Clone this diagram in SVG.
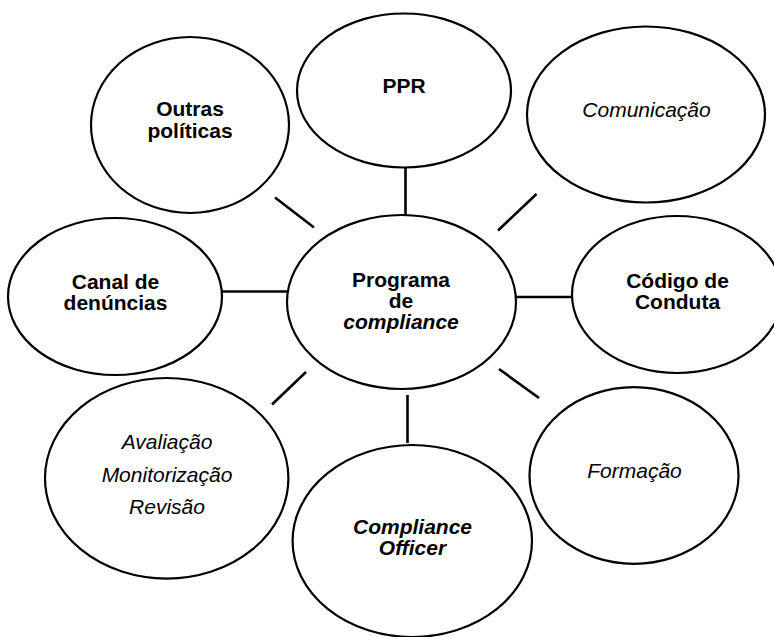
<svg xmlns="http://www.w3.org/2000/svg" width="774" height="637" viewBox="0 0 774 637">
<style>
.n{fill:#fff;stroke:#000;stroke-width:2.2}
.c line{stroke:#000;stroke-width:2.6}
text{font-family:"Liberation Sans",Arial,sans-serif;font-size:21px;fill:#000;text-anchor:middle}
.b{font-weight:bold}
.i{font-style:italic}
</style>
<rect width="774" height="637" fill="#fff"/>
<g id="connectors" class="c">
<line x1="405.5" y1="168" x2="405.5" y2="215"/>
<line x1="275" y1="197.5" x2="314" y2="227.5"/>
<line x1="498" y1="230.5" x2="536.5" y2="194"/>
<line x1="222" y1="291.5" x2="287" y2="291.5"/>
<line x1="516" y1="297" x2="572" y2="297"/>
<line x1="306" y1="372" x2="272" y2="404.5"/>
<line x1="407.5" y1="395" x2="407.5" y2="443"/>
<line x1="499" y1="369" x2="539" y2="398"/>
</g>
<g id="ppr">
<ellipse class="n" cx="404" cy="90.5" rx="107" ry="77"/>
<text class="b" x="404" y="92.5">PPR</text>
</g>
<g id="outras">
<ellipse class="n" cx="190" cy="125" rx="99" ry="88"/>
<text class="b" x="190" y="116">Outras</text>
<text class="b" x="190" y="137.5">políticas</text>
</g>
<g id="comunicacao">
<ellipse class="n" cx="646" cy="114.5" rx="119" ry="88"/>
<text class="i" x="646.5" y="116.5">Comunicação</text>
</g>
<g id="canal">
<ellipse class="n" cx="115" cy="296.5" rx="107" ry="78.5"/>
<text class="b" x="115.5" y="289">Canal de</text>
<text class="b" x="115.5" y="310">denúncias</text>
</g>
<g id="programa">
<ellipse class="n" cx="401.5" cy="302" rx="114.5" ry="87"/>
<text class="b" x="401" y="286.5">Programa</text>
<text class="b" x="401" y="308">de</text>
<text class="b i" x="401" y="329">compliance</text>
</g>
<g id="codigo">
<ellipse class="n" cx="677" cy="294.5" rx="105" ry="78.5"/>
<text class="b" x="677.5" y="287.5">Código de</text>
<text class="b" x="677.5" y="308.5">Conduta</text>
</g>
<g id="avaliacao">
<ellipse class="n" cx="166.7" cy="478.3" rx="121.7" ry="100.3"/>
<text class="i" x="167" y="448.5">Avaliação</text>
<text class="i" x="167" y="481.5">Monitorização</text>
<text class="i" x="167" y="514">Revisão</text>
</g>
<g id="officer">
<ellipse class="n" cx="412.3" cy="541" rx="119.7" ry="96"/>
<text class="b i" x="412.5" y="533.5">Compliance</text>
<text class="b i" x="412.5" y="555">Officer</text>
</g>
<g id="formacao">
<ellipse class="n" cx="634" cy="475.5" rx="104.5" ry="88.3"/>
<text class="i" x="634.5" y="477.5">Formação</text>
</g>
</svg>
